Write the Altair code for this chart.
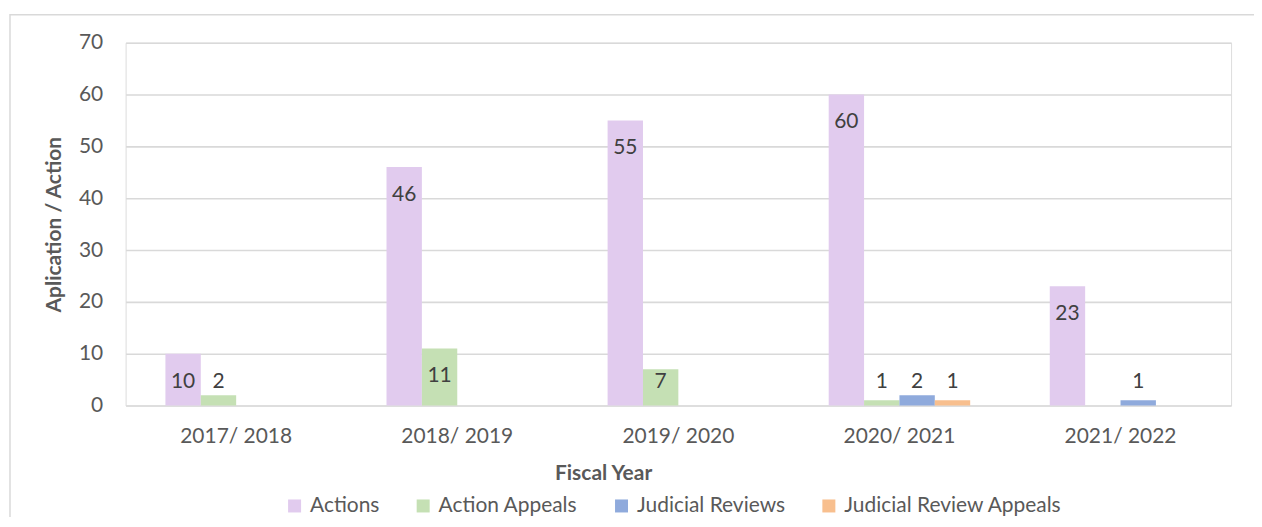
import altair as alt
import pandas as pd

years = ["2017/ 2018", "2018/ 2019", "2019/ 2020", "2020/ 2021", "2021/ 2022"]
series = ["Actions", "Action Appeals", "Judicial Reviews", "Judicial Review Appeals"]
colors = ["#E1CBEE", "#C5E0B4", "#8FAADC", "#F8BF8E"]

actions = [10, 46, 55, 60, 23]
action_appeals = [2, 11, 7, 1, None]
judicial_reviews = [None, None, None, 2, 1]
judicial_review_appeals = [None, None, None, 1, None]

y_ticks = [0, 10, 20, 30, 40, 50, 60, 70]

rows = []
for s, vals in zip(series, [actions, action_appeals, judicial_reviews, judicial_review_appeals]):
    for yr, v in zip(years, vals):
        rows.append({"year": yr, "series": s, "value": v})
df = pd.DataFrame(rows)

FONT = "Lato"
W, H = 1109, 364

x_enc = alt.X("year:N", sort=years, title="Fiscal Year",
              scale=alt.Scale(paddingInner=0.36, paddingOuter=0.18),
              axis=alt.Axis(labelAngle=0, labelFontSize=21, labelColor="#595959", labelFont=FONT,
                            ticks=False, tickSize=0, domain=False, labelPadding=31, labelBaseline="middle",
                            titleFont=FONT, titleFontSize=21, titleFontWeight="bold", titleColor="#595959",
                            titleX=479, titleY=68, titleBaseline="middle", titleAlign="center"))
xoff = alt.XOffset("series:N", sort=series, scale=alt.Scale(domain=series, paddingInner=0, paddingOuter=0))

bars = alt.Chart(df).mark_bar().encode(
    x=x_enc,
    xOffset=xoff,
    y=alt.Y("value:Q", title="Aplication / Action",
            scale=alt.Scale(domain=[0, 70], nice=False),
            axis=alt.Axis(values=y_ticks, labelFontSize=21, labelColor="#595959", labelFont=FONT,
                          ticks=False, tickSize=0, domain=False, labelPadding=23,
                          grid=True, gridColor="#D9D9D9", gridWidth=1.6,
                          titleFont=FONT, titleFontSize=21, titleFontWeight="bold", titleColor="#595959",
                          titleAngle=270, titleX=-65, titleY=182, titleAlign="center",
                          titleBaseline="alphabetic")),
    color=alt.Color("series:N", sort=series,
                    scale=alt.Scale(domain=series, range=colors),
                    legend=alt.Legend(title=None, orient="none", direction="horizontal",
                                      legendX=159, legendY=454, symbolType="square", symbolSize=170,
                                      symbolStrokeWidth=0, labelFontSize=21, labelFont=FONT,
                                      labelColor="#595959", labelOffset=5, columnPadding=33,
                                      padding=0, labelLimit=400)),
)

labels = alt.Chart(df).transform_filter("datum.value != null && datum.value > 0").transform_calculate(
    label_y="max(datum.value, 10)"
).mark_text(font=FONT, fontSize=21, color="#404040", dy=28, baseline="middle").encode(
    x=alt.X("year:N", sort=years),
    xOffset=xoff,
    y=alt.Y("label_y:Q"),
    text=alt.Text("value:Q", format="d"),
)

border = alt.Chart(pd.DataFrame({"k": [0]})).mark_rect(
    fill="transparent", stroke="#D9D9D9", strokeWidth=1.5
).encode(
    x=alt.value(-116), x2=alt.value(1200), y=alt.value(-28), y2=alt.value(600)
)

chart = alt.layer(border, bars, labels).properties(
    width=W, height=H,
    autosize=alt.AutoSizeParams(type="none"),
    padding={"left": 118, "top": 34, "right": 23, "bottom": 111},
).configure_view(fill="#F2F2F2", stroke=None).configure(background="white")

chart.save("out.html", embed_options={"renderer": "svg", "actions": False})
